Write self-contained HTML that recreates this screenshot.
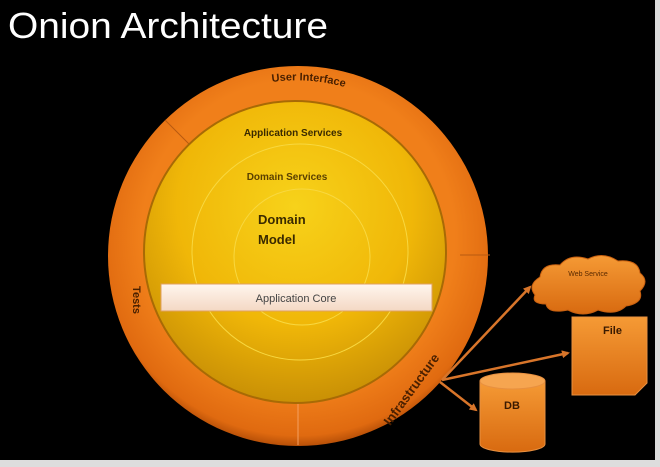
<!DOCTYPE html>
<html><head><meta charset="utf-8"><style>
html,body{margin:0;padding:0;background:#000;width:660px;height:467px;overflow:hidden}
</style></head><body>
<svg width="660" height="467" viewBox="0 0 660 467" xmlns="http://www.w3.org/2000/svg" font-family="Liberation Sans, sans-serif">
<defs>
<radialGradient id="og" cx="50%" cy="45%" r="55%">
<stop offset="0.75" stop-color="#f07f1a"/><stop offset="0.95" stop-color="#e06a10"/><stop offset="1" stop-color="#b85008"/>
</radialGradient>
<radialGradient id="yg" cx="50%" cy="35%" r="65%">
<stop offset="0" stop-color="#f7d21a"/><stop offset="0.6" stop-color="#f0b708"/><stop offset="1" stop-color="#c99005"/>
</radialGradient>
<linearGradient id="bx" x1="0" y1="0" x2="0" y2="1">
<stop offset="0" stop-color="#f59a35"/><stop offset="1" stop-color="#d86a10"/>
</linearGradient>
<linearGradient id="ac" x1="0" y1="0" x2="0" y2="1">
<stop offset="0" stop-color="#fff6ee"/><stop offset="1" stop-color="#f4d8c4"/>
</linearGradient>
<marker id="ah" markerWidth="8" markerHeight="8" refX="6" refY="4" orient="auto" markerUnits="userSpaceOnUse">
<path d="M0,0 L8,4 L0,8 Z" fill="#d8752a"/>
</marker>
</defs>
<rect x="655" y="0" width="5" height="467" fill="#ddd"/>
<rect x="0" y="460" width="660" height="7" fill="#ddd"/>
<text x="8" y="38" font-size="36" fill="#fff" textLength="320" lengthAdjust="spacingAndGlyphs">Onion Architecture</text>

<circle cx="298" cy="256" r="190" fill="url(#og)"/>
<line x1="165" y1="120" x2="190" y2="145" stroke="#b85a10" stroke-width="1"/>
<line x1="460" y1="255" x2="490" y2="255" stroke="#b85a10" stroke-width="1"/>
<line x1="298" y1="402" x2="298" y2="445" stroke="#f5a060" stroke-width="1"/>
<circle cx="295" cy="252" r="151" fill="url(#yg)" stroke="#a86a05" stroke-width="2"/>
<circle cx="300" cy="252" r="108" fill="none" stroke="#f8d840" stroke-width="1"/>
<circle cx="302" cy="257" r="68" fill="none" stroke="#f8d840" stroke-width="1"/>

<text x="293" y="136" font-size="10" font-weight="bold" fill="#3a2a00" text-anchor="middle">Application  Services</text>
<text x="287" y="180" font-size="10" font-weight="bold" fill="#5a4000" text-anchor="middle">Domain Services</text>
<text x="258" y="224" font-size="13" font-weight="bold" fill="#3a2a00">Domain</text>
<text x="258" y="244" font-size="13" font-weight="bold" fill="#3a2a00">Model</text>

<rect x="161" y="284" width="271" height="27" fill="url(#ac)" stroke="#e0a060" stroke-width="1"/>
<text x="296" y="302" font-size="11" fill="#444" text-anchor="middle">Application  Core</text>

<path id="uip" d="M 272,82 A 178 178 0 0 1 390,107" fill="none"/>
<text font-size="11" font-weight="bold" fill="#4a2000"><textPath href="#uip">User Interface</textPath></text>
<text transform="translate(133,300) rotate(90)" font-size="11" font-weight="bold" fill="#4a2000" text-anchor="middle">Tests</text>
<text transform="translate(415,392) rotate(-54)" font-size="13" font-weight="bold" fill="#4a2000" text-anchor="middle">Infrastructure</text>

<line x1="442" y1="380" x2="530" y2="287" stroke="#d8752a" stroke-width="2.5" marker-end="url(#ah)"/>
<line x1="442" y1="380" x2="568" y2="353" stroke="#d8752a" stroke-width="2.5" marker-end="url(#ah)"/>
<line x1="440" y1="382" x2="476" y2="410" stroke="#d8752a" stroke-width="2.5" marker-end="url(#ah)"/>

<path d="M535,295 q-8,-10 5,-18 q2,-14 20,-12 q10,-12 28,-6 q15,-8 30,2 q20,-2 22,12 q10,8 0,18 q4,12 -14,15 q-10,10 -28,4 q-15,8 -30,0 q-20,4 -22,-6 q-15,0 -11,-9 Z" fill="url(#bx)" stroke="#c86010"/>
<text x="588" y="276" font-size="7" fill="#5a2a00" text-anchor="middle">Web Service</text>

<path d="M572,317 H647 V383 L635,395 H572 Z" fill="url(#bx)" stroke="#e89040"/>
<text x="603" y="334" font-size="11" font-weight="bold" fill="#3a1a00">File</text>

<path d="M480,381 V444 A32 8 0 0 0 545 444 V381" fill="url(#bx)" stroke="#e89040"/>
<ellipse cx="512.5" cy="381" rx="32.5" ry="8" fill="#f6a550" stroke="#e89040"/>
<text x="512" y="409" font-size="11" font-weight="bold" fill="#3a1a00" text-anchor="middle">DB</text>
</svg>
</body></html>
